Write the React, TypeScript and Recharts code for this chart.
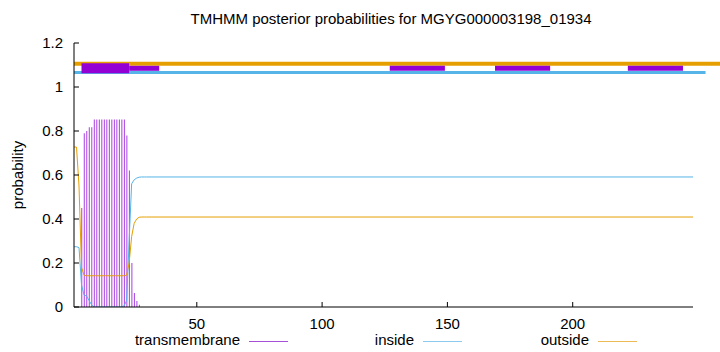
import React from 'react'
import {
  ComposedChart, Bar, Line, XAxis, YAxis, ReferenceLine
} from 'recharts'

const TM_COLOR = '#9400D3'
const IN_COLOR = '#56B4E9'
const OUT_COLOR = '#E69F00'

const residues = [1, 2, 3, 4, 5, 6, 7, 8, 9, 10, 11, 12, 13, 14, 15, 16, 17, 18, 19, 20, 21, 22, 23, 24, 25, 26, 27, 28, 29, 30, 248]
const tmProb = [0, 0, 0, 0.45, 0.79, 0.8, 0.817, 0.817, 0.852, 0.852, 0.852, 0.852, 0.852, 0.852, 0.852, 0.852, 0.852, 0.852, 0.852, 0.852, 0.852, 0.78, 0.62, 0.2, 0.064, 0.027, 0.01, 0, 0, 0, 0]
const insideProb = [0.274, 0.274, 0.27, 0.1, 0.055, 0.05, 0.03, 0.01, 0, 0, 0, 0, 0, 0, 0, 0, 0, 0, 0, 0, 0.005, 0.03, 0.3, 0.56, 0.578, 0.586, 0.59, 0.591, 0.591, 0.591, 0.591]
const outsideProb = [0.727, 0.727, 0.55, 0.18, 0.145, 0.142, 0.142, 0.142, 0.142, 0.142, 0.142, 0.142, 0.142, 0.142, 0.142, 0.142, 0.142, 0.142, 0.142, 0.142, 0.142, 0.145, 0.2, 0.32, 0.38, 0.4, 0.408, 0.409, 0.409, 0.409, 0.409]

// topology bars drawn above the curves
const tmSegments = [[23, 35], [127, 149], [169, 191], [222, 244]]
const xTicks = [50, 100, 150, 200]
const yTicks = [0, 0.2, 0.4, 0.6, 0.8, 1, 1.2]

const legendItems = [
  { name: 'transmembrane', color: '#a64fd6', right: 240 },
  { name: 'inside', color: '#8ccbef', right: 414 },
  { name: 'outside', color: '#edbb55', right: 589 }
]

const data = residues.map((r, i) => ({
  pos: r,
  tm: r < 30 ? tmProb[i] : null,
  inside: insideProb[i],
  outside: outsideProb[i]
}))

const font = '"Liberation Sans", Arial, sans-serif'
const tickStyle = { fontSize: 15, fill: '#000', fontFamily: font }

export default function App() {
  return (
    <div style={{ position: 'absolute', left: 0, top: 0, width: 720, height: 352, background: '#fff', fontFamily: font }}>
      <div style={{ position: 'absolute', left: 0, width: 782, top: 10, textAlign: 'center', fontSize: 15, whiteSpace: 'nowrap' }}>
        TMHMM posterior probabilities for MGYG000003198_01934
      </div>
      <div style={{ position: 'absolute', left: 17, top: 175, transform: 'translate(-50%, -50%) rotate(-90deg)', fontSize: 15, whiteSpace: 'nowrap' }}>
        probability
      </div>
      {legendItems.map(it => (
        <React.Fragment key={it.name}>
          <div style={{ position: 'absolute', right: 720 - it.right, top: 331, fontSize: 15, whiteSpace: 'nowrap' }}>{it.name}</div>
          <div style={{ position: 'absolute', left: it.right + 9, top: 341, width: 39, height: 1, background: it.color }} />
        </React.Fragment>
      ))}
      <ComposedChart width={720} height={352} data={data} margin={{ top: 43, right: 27, bottom: 0, left: 0 }} style={{ position: 'absolute', left: 0, top: 0 }}>
        <XAxis dataKey="pos" type="number" domain={[1, 248]} ticks={xTicks} tickSize={-5} tickMargin={16}
          height={45} stroke="#000" tick={tickStyle} tickLine={{ stroke: '#000' }} axisLine={{ stroke: '#000' }} allowDataOverflow />
        <XAxis xAxisId="top" orientation="top" type="number" domain={[1, 248]} ticks={xTicks} tickSize={-5} height={0}
          tickFormatter={() => ''} stroke="#000" axisLine={{ stroke: '#000' }} />
        <YAxis type="number" domain={[0, 1.2]} ticks={yTicks} tickSize={-5} tickMargin={16} width={74}
          tickFormatter={(v: number) => String(Number(v.toFixed(1)))} tick={tickStyle} stroke="#000" axisLine={{ stroke: '#000' }} allowDataOverflow />
        <YAxis yAxisId="right" orientation="right" type="number" domain={[0, 1.2]} ticks={yTicks} tickSize={-5} width={0}
          tickFormatter={() => ''} stroke="#000" axisLine={{ stroke: '#000' }} />

        <Bar dataKey="tm" fill="#a83ee0" barSize={1} isAnimationActive={false} />
        <Line type="linear" dataKey="inside" stroke={IN_COLOR} strokeWidth={1} dot={false} isAnimationActive={false} />
        <Line type="linear" dataKey="outside" stroke={OUT_COLOR} strokeWidth={1} dot={false} isAnimationActive={false} />

        <ReferenceLine segment={[{ x: 1, y: 1.106 }, { x: 259, y: 1.106 }]} stroke={OUT_COLOR} strokeWidth={4} ifOverflow="visible" />
        <ReferenceLine segment={[{ x: 1, y: 1.066 }, { x: 253, y: 1.066 }]} stroke={IN_COLOR} strokeWidth={3} ifOverflow="visible" />
        {tmSegments.map(([a, b]) => (
          <ReferenceLine key={a} segment={[{ x: a, y: 1.085 }, { x: b, y: 1.085 }]} stroke={TM_COLOR} strokeWidth={5} ifOverflow="visible" />
        ))}
        <ReferenceLine segment={[{ x: 4, y: 1.0855 }, { x: 23, y: 1.0855 }]} stroke={TM_COLOR} strokeWidth={10} ifOverflow="visible" />
      </ComposedChart>
    </div>
  )
}
